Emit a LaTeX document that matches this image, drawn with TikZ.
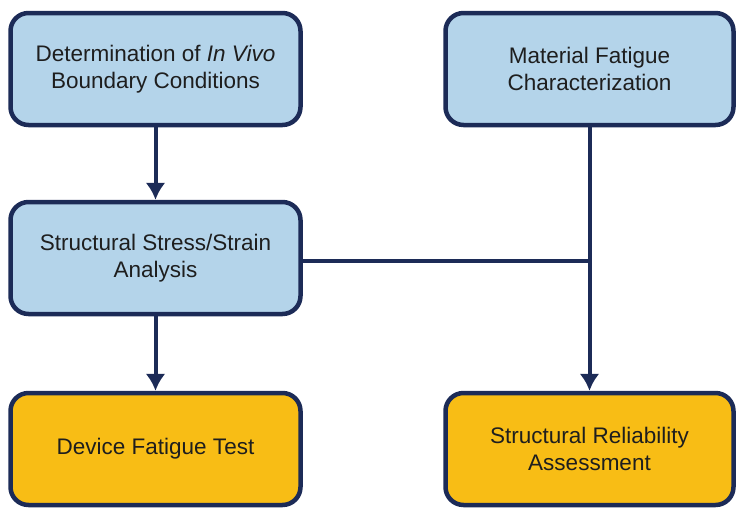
\documentclass[tikz,border=0pt]{standalone}
\usepackage{fontspec}
\setmainfont{Liberation Sans}
\usepackage{tikz}
\usetikzlibrary{arrows.meta,positioning}
\definecolor{navy}{HTML}{1C2B57}
\definecolor{bluelite}{HTML}{B4D4EA}
\definecolor{gold}{HTML}{F8BD15}
\definecolor{ink}{HTML}{1E1E1E}

\begin{document}
\begin{tikzpicture}[>={Latex[length=17pt,width=20pt]}]
      \useasboundingbox (0pt,0pt) rectangle (736pt,-507pt);
      \tikzset{stagebox/.style={rounded corners=18pt,draw=navy,line width=4.5pt,text=ink,align=center,minimum height=112pt,font=\fontsize{22.5}{27.5}\selectfont},
               flow/.style={line width=4pt,draw=navy}}
      \node[stagebox,fill=bluelite,minimum width=290pt] (det) at (155.5pt,-69pt) {Determination of \textit{In Vivo}\\Boundary Conditions};
      \node[stagebox,fill=bluelite,minimum width=288pt,right=140.5pt of det] (mat) {Material Fatigue\\Characterization};
      \node[stagebox,fill=bluelite,minimum width=290pt,below=72.5pt of det] (stress) {Structural Stress/Strain\\Analysis};
      \node[stagebox,fill=gold,minimum width=290pt,below=74.5pt of stress] (devtest) {Device Fatigue Test};
      \node[stagebox,fill=gold,minimum width=288pt] (reliab) at (mat |- devtest) {Structural Reliability\\Assessment};
      \coordinate (join) at ([yshift=-3pt]mat.south |- stress.east);
      \draw[->,flow] (det) -- (stress);
      \draw[->,flow] (stress) -- (devtest);
      \draw[->,flow] (mat) -- (reliab);
      \draw[flow] ([yshift=-3pt]stress.east) -- (join);
    \end{tikzpicture}
\end{document}
